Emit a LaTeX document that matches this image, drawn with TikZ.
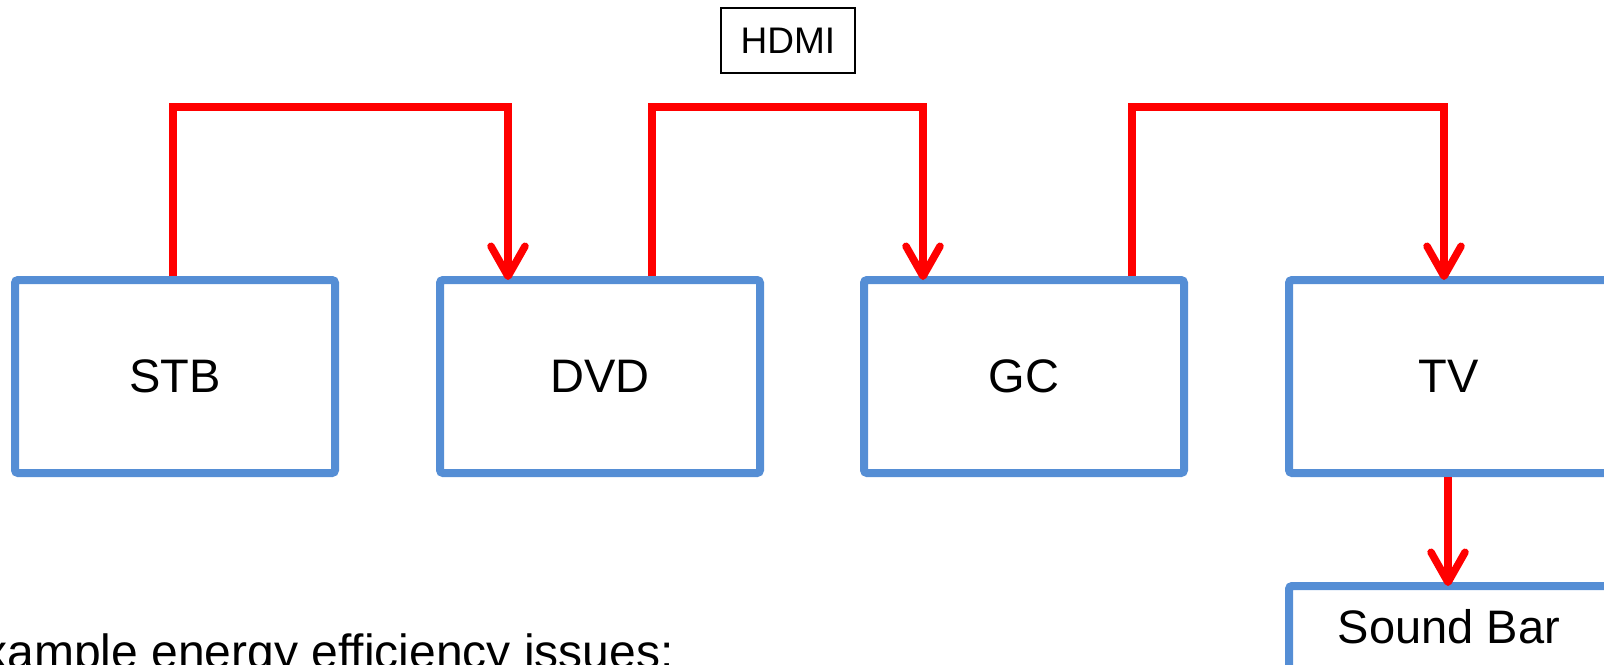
\documentclass[tikz,border=0pt]{standalone}
\usepackage{fontspec}
\setmainfont{Liberation Sans}
\usetikzlibrary{arrows.meta,calc}
\definecolor{boxblue}{RGB}{85,142,213}
\begin{document}
\begin{tikzpicture}[x=0.5pt,y=-0.5pt,
  devbox/.style={draw=boxblue, line width=4pt, rounded corners=1.5pt,
    minimum width=160pt, minimum height=96.5pt, inner sep=0pt,
    font=\fontsize{23.5pt}{28pt}\selectfont},
  sbbox/.style={devbox, minimum height=0pt, text height=28.5pt, text depth=30pt},
  labelbox/.style={draw=black, line width=1pt, minimum width=67pt,
    minimum height=32.5pt, inner sep=0pt, font=\fontsize{18.5pt}{22pt}\selectfont},
  link/.style={draw=red, line width=3.75pt,
    -{Straight Barb[length=15pt,width=17pt,round]}},
  notetext/.style={inner sep=0pt, font=\fontsize{24pt}{28pt}\selectfont}]
\useasboundingbox (0,0) rectangle (1604,664);
\clip (0,0) rectangle (1604,664);

\node[devbox] (stb) at (175,376.5) {STB};
\node[devbox] (dvd) at (600,376.5) {DVD};
\node[devbox] (gc) at (1024,376.5) {GC};
\node[devbox] (tv) at (1449,376.5) {TV};
\node[sbbox, anchor=base] (sb) at (1449,643) {Sound Bar};
\node[labelbox] (hdmi) at (788,40.5) {HDMI};
\node[notetext, anchor=base west] (note) at (-49,668) {Example energy efficiency issues:};

\coordinate (top) at (0,107);
\coordinate (s1) at ($(stb.north)+(-2,0)$);
\coordinate (e1) at ($(dvd.north)+(-92,4)$);
\coordinate (s2) at ($(dvd.north)+(52,0)$);
\coordinate (e2) at ($(gc.north)+(-101,4)$);
\coordinate (s3) at ($(gc.north)+(108,0)$);
\coordinate (e3) at ($(tv.north)+(-5,4)$);
\coordinate (s4) at ($(tv.south)+(-1,0)$);
\coordinate (e4) at ($(sb.north)+(-1,4)$);

\draw[link] (s1) -- (s1 |- top) -| (e1);
\draw[link] (s2) -- (s2 |- top) -| (e2);
\draw[link] (s3) -- (s3 |- top) -| (e3);
\draw[link] (s4) -- (e4);
\end{tikzpicture}
\end{document}
